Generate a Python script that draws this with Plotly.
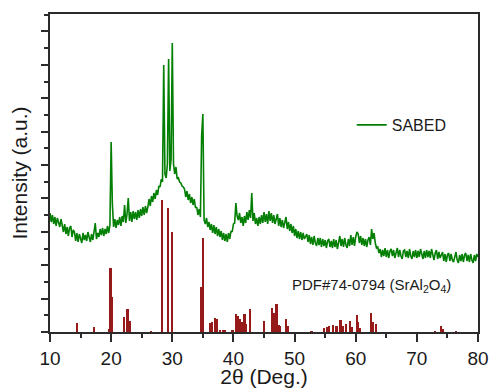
import numpy as np
import plotly.graph_objects as go

# ---- measured pattern (SABED), 2theta grid 10..80 step 0.2 ----
two_theta = np.round(np.arange(10.0, 80.0001, 0.2), 2)
sabed = [
    119, 110, 117, 108, 115, 106, 114, 110, 105, 113,   # 10.0-11.8
    107, 100, 108, 98, 105, 96, 104, 106, 95, 102,      # 12.0-13.8
    100, 91, 99, 90, 98, 93, 89, 99, 92, 97,            # 14.0-15.8
    91, 100, 94, 90, 98, 92, 100, 109, 93, 99,          # 16.0-17.8
    95, 103, 97, 104, 96, 103, 98, 106, 99, 107,        # 18.0-19.8
    190, 128, 105, 113, 104, 112, 107, 115, 106, 116,   # 20.0-21.8
    110, 127, 109, 118, 134, 111, 120, 110, 121, 113,   # 22.0-23.8
    120, 112, 122, 114, 123, 116, 125, 117, 126, 119,   # 24.0-25.8
    125, 133, 126, 136, 130, 139, 133, 142, 137, 146,   # 26.0-27.8
    145, 153, 150, 267, 158, 154, 168, 273, 161, 172,   # 28.0-29.8
    289, 168, 158, 165, 153, 154, 150, 149, 146, 145,   # 30.0-31.8
    143, 135, 141, 132, 138, 129, 135, 127, 133, 124,   # 32.0-33.8
    125, 117, 123, 115, 196, 218, 112, 108, 114, 105,   # 34.0-35.8
    110, 102, 108, 99, 107, 98, 105, 96, 103, 95,       # 36.0-37.8
    101, 92, 99, 91, 98, 90, 99, 93, 101, 100,          # 38.0-39.8
    108, 109, 129, 116, 112, 119, 109, 115, 106, 116,   # 40.0-41.8
    109, 120, 112, 122, 114, 139, 111, 119, 108, 114,   # 42.0-43.8
    106, 115, 108, 117, 109, 120, 110, 118, 108, 121,   # 44.0-45.8
    111, 119, 109, 117, 108, 115, 118, 106, 114, 105,   # 46.0-47.8
    112, 104, 111, 115, 103, 110, 101, 108, 99, 106,    # 48.0-49.8
    96, 103, 94, 101, 93, 100, 92, 99, 93, 95,          # 50.0-51.8
    98, 90, 97, 88, 95, 87, 96, 89, 86, 94,             # 52.0-53.8
    87, 94, 85, 93, 86, 92, 84, 91, 93, 85,             # 54.0-55.8
    91, 84, 93, 85, 92, 83, 90, 96, 86, 93,             # 56.0-57.8
    85, 94, 87, 84, 93, 86, 97, 87, 95, 86,             # 58.0-59.8
    95, 100, 98, 89, 96, 87, 94, 86, 93, 85,            # 60.0-61.8
    92, 95, 87, 103, 93, 99, 89, 84, 85, 79,            # 62.0-63.8
    83, 75, 82, 76, 84, 75, 82, 74, 81, 83,             # 64.0-65.8
    76, 82, 74, 81, 84, 75, 82, 76, 73, 81,             # 66.0-67.8
    82, 75, 81, 74, 83, 76, 73, 81, 75, 82,             # 68.0-69.8
    74, 81, 75, 83, 76, 73, 81, 74, 82, 75,             # 70.0-71.8
    81, 74, 83, 76, 72, 79, 82, 73, 80, 74,             # 72.0-73.8
    77, 80, 71, 78, 70, 77, 79, 71, 78, 72,             # 74.0-75.8
    70, 77, 80, 72, 69, 77, 71, 78, 70, 77,             # 76.0-77.8
    79, 71, 77, 70, 78, 72, 69, 77, 71, 78,             # 78.0-79.8
    75,                                                 # 80.0
]

# ---- reference card PDF#74-0794 (SrAl2O4) stick positions / intensities ----
pdf_pos = [14.5, 17.2, 19.65, 19.93, 20.14, 22.1, 22.7, 23.1, 26.6,
           28.4, 29.3, 29.95, 34.7, 35.05, 36.3, 36.55, 37.05, 37.3,
           37.9, 38.35, 38.6, 39.9, 40.45, 40.7, 41.1, 41.35, 41.85,
           42.1, 42.8, 45.05, 46.4, 46.75, 47.1, 47.4, 47.7, 48.7,
           48.9, 52.8, 54.9, 55.3, 55.7, 56.35, 56.9, 57.55, 57.9,
           58.5, 59.05, 59.35, 60.2, 60.4, 60.7, 62.6, 62.9, 63.3,
           73.0, 74.05, 74.3, 76.5]
pdf_int = [8.7, 5, 3, 64, 35, 15, 22.7, 10.7, 1,
           132, 124, 100, 44.7, 94, 8.7, 9.7, 14, 12.7,
           2, 2, 2, 2, 17.7, 16, 12.7, 10, 17.7,
           8, 23, 11, 24, 18.7, 28, 7, 6, 13,
           6, 1, 4, 5, 6, 7, 6, 12, 6,
           8, 10.7, 5, 17, 10, 4, 18.7, 10, 8,
           1, 6, 3, 1]

x_ticks = [10, 20, 30, 40, 50, 60, 70, 80]

FONT = "Arial, 'Liberation Sans', sans-serif"
AX = "#2b2b2b"

fig = go.Figure()
fig.add_trace(go.Bar(x=pdf_pos, y=pdf_int, width=0.28,
                     marker=dict(color="#961a1a", line=dict(width=0)),
                     showlegend=False, hoverinfo="skip"))
fig.add_trace(go.Scatter(x=two_theta, y=sabed, mode="lines", name="SABED",
                         line=dict(color="#037f03", width=1.6)))

fig.add_annotation(x=62.6, y=47, xref="x", yref="y",
                   text="PDF#74-0794 (SrAl<sub>2</sub>O<sub>4</sub>)",
                   showarrow=False, font=dict(family=FONT, size=15, color="#1a1a1a"))

fig.update_layout(
    width=490, height=388,
    margin=dict(l=50, r=12, t=14, b=56, autoexpand=False),
    paper_bgcolor="white", plot_bgcolor="white",
    font=dict(family=FONT, color="#1a1a1a"),
    bargap=0,
    legend=dict(x=0.705, y=0.651, xanchor="left", yanchor="middle",
                bgcolor="rgba(0,0,0,0)", font=dict(family=FONT, size=16, color="#1a1a1a")),
    showlegend=True,
)
fig.update_xaxes(range=[10, 80], tickvals=x_ticks, ticktext=[str(v) for v in x_ticks],
                 automargin=False,
                 showline=True, linecolor=AX, linewidth=1.8, mirror=True,
                 ticks="outside", ticklen=8, tickwidth=1.5, tickcolor=AX,
                 minor=dict(ticks="outside", ticklen=4, tickwidth=1.5, tickcolor=AX, dtick=5, tick0=0, showgrid=False),
                 showgrid=False, zeroline=False,
                 tickfont=dict(family=FONT, size=19, color="#1a1a1a"),
                 title=dict(text="2θ (Deg.)", font=dict(family=FONT, size=21, color="#1a1a1a"), standoff=5))
fig.update_yaxes(range=[0, 318], tick0=0, dtick=33.4,
                 automargin=False,
                 showline=True, linecolor=AX, linewidth=1.8, mirror=True,
                 ticks="outside", ticklen=7, tickwidth=1.5, tickcolor=AX,
                 minor=dict(ticks="outside", ticklen=4, tickwidth=1.5, tickcolor=AX, dtick=16.7, tick0=0, showgrid=False),
                 showticklabels=False, showgrid=False, zeroline=False,
                 title=dict(text="Intensity (a.u.)", font=dict(family=FONT, size=21, color="#1a1a1a"), standoff=8))

fig.write_html("out.html", config={"displayModeBar": False},
               post_script="document.body.style.margin='0';document.body.style.padding='0';")
